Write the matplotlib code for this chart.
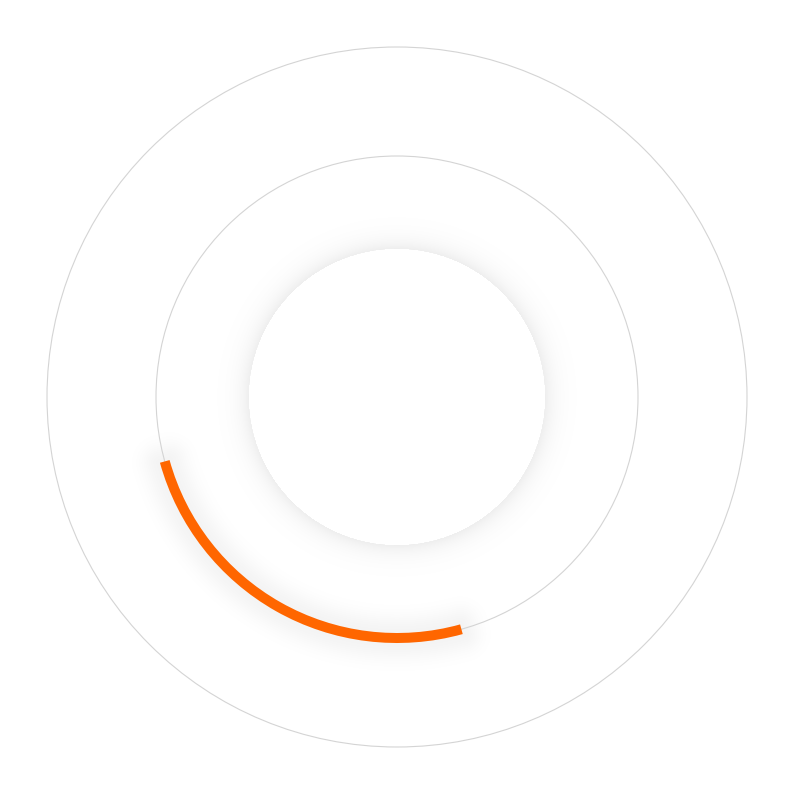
import matplotlib
matplotlib.use("Agg")
import matplotlib.pyplot as plt
import numpy as np
from matplotlib.patches import Circle, Wedge

# gauge data
value = 25
max_value = 100
start_angle = 195.5  # degrees, counterclockwise

# ring radii (px)
outer_ring = 350
middle_ring = 241
inner_disc = 148
arc_width = 10

ORANGE = "#ff6600"
RING = "#d4d4d4"

fig = plt.figure(figsize=(7.94, 7.94), dpi=100, facecolor="white")
ax = fig.add_axes([0, 0, 1, 1])
ax.set_xlim(0, 794)
ax.set_ylim(0, 794)
ax.set_aspect("equal")
ax.axis("off")

cx, cy = 397, 397
sweep = 360 * value / max_value
end_angle = start_angle + sweep
r_out = middle_ring + arc_width / 2
r_in = r_out - arc_width

# soft shadows, built as one alpha image
xs, ys = np.meshgrid(np.arange(794) + 0.5, np.arange(794) + 0.5)
dx, dy = xs - cx, ys - cy
rr = np.hypot(dx, dy)
th = np.degrees(np.arctan2(dy, dx)) % 360

d_disc = np.clip(rr - inner_disc, 0, None)
shadow = 0.07 * np.exp(-d_disc / 11.0) * (rr > inner_disc)

tc = np.radians(np.clip(th, start_angle, end_angle))
rc = np.clip(rr, r_in, r_out)
d_arc = np.hypot(xs - (cx + rc * np.cos(tc)), ys - (cy + rc * np.sin(tc)))
shadow = np.maximum(shadow, 0.045 * np.exp(-(d_arc / 18.0) ** 2))

rgba = np.zeros((794, 794, 4))
rgba[..., 3] = shadow
ax.imshow(rgba, extent=(0, 794, 0, 794), origin="lower", zorder=0)

# rings
for r in (outer_ring, middle_ring):
    ax.add_patch(Circle((cx, cy), r, fill=False, edgecolor=RING,
                        linewidth=0.8, zorder=1))

ax.add_patch(Circle((cx, cy), inner_disc, facecolor="white",
                    edgecolor="none", zorder=2))

# value arc
ax.add_patch(Wedge((cx, cy), r_out, start_angle, end_angle, width=arc_width,
                   facecolor=ORANGE, edgecolor="none", zorder=3))

fig.savefig("out.png", dpi=100, facecolor="white")
